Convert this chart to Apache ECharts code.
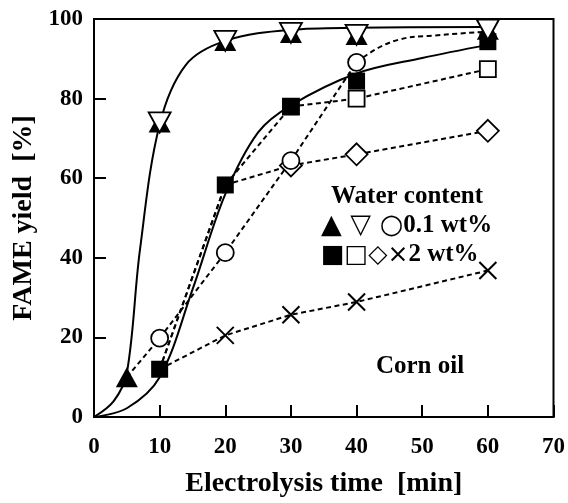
<!DOCTYPE html>
<html>
<head>
<meta charset="utf-8">
<script src="https://cdn.jsdelivr.net/npm/echarts@6/dist/echarts.min.js"></script>
<style>
  html, body { margin: 0; padding: 0; background: #fff; }
  #chart { width: 568px; height: 503px; }
</style>
</head>
<body>
<div id="chart"></div>
<script>
// electrolysis time [min] and FAME yield [%]
// 0.1 wt% water
var triUpT = [5, 10, 20, 30, 40, 60];
var triUpY = [10, 74, 94.5, 96.5, 96, 97.3];
var triDownT = [10, 20, 30, 40, 60];
var triDownY = [74, 94.5, 96.5, 96, 97.3];
var circT = [5, 10, 20, 30, 40];
var circY = [10, 19.8, 41.3, 64.4, 89.1];
var circTailT = [40, 46.4, 51.4, 60];
var circTailY = [89.1, 94.8, 95.8, 96.8];
// 2 wt% water
var sqFillT = [10, 20, 30, 40, 60];
var sqFillY = [12, 58.3, 78, 84.4, 94.3];
var sqOpenT = [10, 20, 30, 40, 60];
var sqOpenY = [12, 58.3, 78, 80, 87.4];
var diaT = [10, 20, 30, 40, 60];
var diaY = [12, 58.3, 63.2, 66, 71.9];
var crossT = [10, 20, 30, 40, 60];
var crossY = [12, 20.5, 25.7, 28.9, 36.8];
// solid fitted curves (traced points)
var fitLowT = [0, 3, 5, 7, 10, 14, 20, 30, 40, 60];
var fitLowY = [0, 4, 11, 42, 73.5, 88.5, 94.5, 97.3, 97.8, 98];
var fitHighT = [0, 5, 10, 15, 20, 25, 30, 40, 50, 60];
var fitHighY = [0, 2.2, 10, 32, 56, 71.5, 78.3, 86.3, 90.2, 93.5];

function pairs(t, y, hide) {
  return t.map(function (v, i) {
    var d = { value: [v, y[i]] };
    if (hide && hide.indexOf(v) >= 0) d.symbol = 'none';
    return d;
  });
}

var serif = "'Liberation Serif', 'DejaVu Serif', serif";
var dash = [5, 3.5];
var openItem = { color: '#fff', borderColor: '#000', borderWidth: 1.8 };

function dashed(name, data, symbol, size, extra) {
  var s = {
    name: name, type: 'line', data: data,
    symbol: symbol, symbolSize: size, showAllSymbol: true,
    lineStyle: { color: '#000', width: 2, type: dash },
    itemStyle: openItem
  };
  return Object.assign(s, extra || {});
}

// legend rows: symbols drawn a bit larger than the text
var legendRich = {
  s: { fontFamily: "'DejaVu Sans'", fontSize: 27, fill: '#000' },
  s2: { fontFamily: "'DejaVu Sans'", fontSize: 25, fill: '#000' },
  t: { fontFamily: serif, fontWeight: 'bold', fontSize: 25, fill: '#000' }
};

var myChart = echarts.init(document.getElementById('chart'));
var option = {
  animation: false,
  grid: { left: 94, right: 11, top: 19, bottom: 79, show: true, borderColor: '#000', borderWidth: 2 },
  xAxis: {
    type: 'value', min: 0, max: 70, interval: 10,
    name: 'Electrolysis time  [min]', nameLocation: 'middle', nameGap: 53,
    nameTextStyle: { fontFamily: serif, fontWeight: 'bold', fontSize: 28, color: '#000' },
    axisLine: { lineStyle: { color: '#000', width: 2 } },
    axisTick: { inside: true, length: 12, lineStyle: { color: '#000', width: 2 } },
    axisLabel: { margin: 19, fontFamily: serif, fontWeight: 'bold', fontSize: 23, color: '#000' },
    splitLine: { show: false }
  },
  yAxis: {
    type: 'value', min: 0, max: 100, interval: 20,
    name: 'FAME yield  [%]', nameLocation: 'middle', nameGap: 52,
    nameTextStyle: { fontFamily: serif, fontWeight: 'bold', fontSize: 28, color: '#000' },
    axisLine: { lineStyle: { color: '#000', width: 2 } },
    axisTick: { inside: true, length: 12, lineStyle: { color: '#000', width: 2 } },
    axisLabel: { margin: 11, fontFamily: serif, fontWeight: 'bold', fontSize: 23, color: '#000' },
    splitLine: { show: false }
  },
  series: [
    { name: 'fit 0.1', type: 'line', data: pairs(fitLowT, fitLowY), smooth: 0.35,
      symbol: 'none', lineStyle: { color: '#000', width: 2 } },
    { name: 'fit 2', type: 'line', data: pairs(fitHighT, fitHighY), smooth: 0.35,
      symbol: 'none', lineStyle: { color: '#000', width: 2 } },
    dashed('cross', pairs(crossT, crossY, [10]), 'path://M0,0L10,10M10,0L0,10', 17,
      { itemStyle: { color: 'none', borderColor: '#000', borderWidth: 2 } }),
    dashed('diamond', pairs(diaT, diaY, [10, 20]), 'diamond', 22),
    dashed('open square', pairs(sqOpenT, sqOpenY, [10, 20]), 'rect', 16),
    dashed('circle tail', pairs(circTailT, circTailY), 'none', 0, { smooth: 0.5 }),
    dashed('circle', pairs(circT, circY, [5]), 'circle', 17),
    { name: 'filled square', type: 'line', data: pairs(sqFillT, sqFillY), symbol: 'rect', symbolSize: 17,
      lineStyle: { width: 0 }, itemStyle: { color: '#000' } },
    { name: 'filled triangle', type: 'line', data: pairs(triUpT, triUpY), symbol: 'triangle', symbolSize: [22, 20],
      lineStyle: { width: 0 }, itemStyle: { color: '#000' } },
    { name: 'open triangle', type: 'line', data: pairs(triDownT, triDownY), symbol: 'triangle', symbolSize: [22, 20],
      symbolRotate: 180, lineStyle: { width: 0 }, itemStyle: openItem }
  ],
  graphic: [
    { type: 'text', x: 407, y: 197, style: { text: 'Water content', font: 'bold 25px ' + serif, fill: '#000', align: 'center', verticalAlign: 'middle' } },
    { type: 'text', x: 321, y: 226, style: { text: '{s|▲ ▽ ○}{t|0.1 wt%}', rich: legendRich, align: 'left', verticalAlign: 'middle' } },
    { type: 'text', x: 321, y: 255, style: { text: '{s2|■□◇×}{t|2 wt%}', rich: legendRich, align: 'left', verticalAlign: 'middle' } },
    { type: 'text', x: 420, y: 367, style: { text: 'Corn oil', font: 'bold 25px ' + serif, fill: '#000', align: 'center', verticalAlign: 'middle' } }
  ]
};
myChart.setOption(option);
</script>
</body>
</html>
